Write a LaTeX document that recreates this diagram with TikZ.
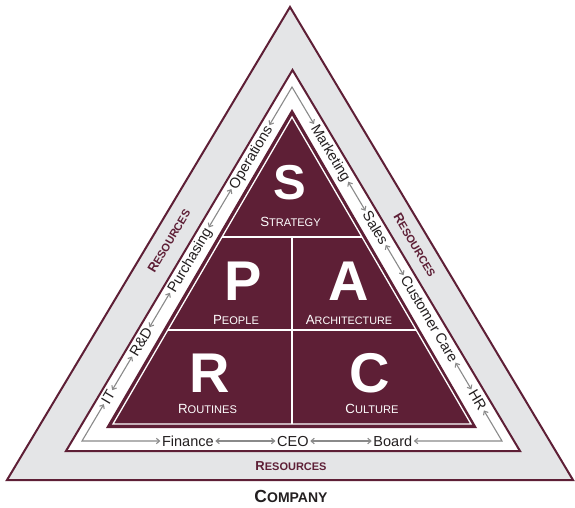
\documentclass[tikz,border=0pt]{standalone}
\usepackage{fontspec}
\setmainfont{Liberation Sans}
\usetikzlibrary{arrows.meta}

\definecolor{spmaroon}{HTML}{5E1F36}
\definecolor{spgray}{HTML}{E4E5E7}
\definecolor{sparrow}{HTML}{8A8A8A}
\definecolor{sptext}{HTML}{231F20}

% first letter large, the rest in smaller capitals
\newcommand{\spcaps}[4]{{\fontsize{#3}{#3}\selectfont #1}{\fontsize{#4}{#4}\selectfont #2}}

\begin{document}
\begin{tikzpicture}[x=1pt,y=-1pt,
  band/.style={draw=spmaroon, line width=2pt, line join=miter},
  divider/.style={draw=white, line width=1.3pt},
  letter/.style={text=white, inner sep=0pt, font={\bfseries\fontsize{56}{56}\selectfont}},
  area/.style={text=white, inner sep=0pt},
  role/.style={text=sptext, inner sep=1.5pt, text height=10pt, text depth=0pt,
               font={\fontsize{14.5}{14.5}\selectfont}},
  resource/.style={text=spmaroon, inner sep=0pt, font=\bfseries},
  link/.style={draw=sparrow, line width=1.1pt,
               {Straight Barb[length=3.2pt,width=5.5pt]}-{Straight Barb[length=3.2pt,width=5.5pt]}}]
\useasboundingbox (0,0) rectangle (575,507);

% company and resources layers
\draw[band, fill=spgray] (7,480) -- (290,7) -- (573,480) -- cycle;
\draw[band, fill=white] (66,451) -- (292.5,70) -- (520,451) -- cycle;

% SPARC core
\fill[spmaroon] (106,428) -- (292,109) -- (477,428) -- cycle;
\draw[divider] (113,424) -- (292,117) -- (471,424) -- cycle;
\draw[divider] (222,237) -- (362,237);
\draw[divider] (168,330) -- (416,330);
\draw[divider] (292,237) -- (292,424);

\node[letter, font={\bfseries\fontsize{49}{49}\selectfont}] (S) at (290,183) {S};
\node[area] (strategy) at (290.5,221.5) {\spcaps{S}{TRATEGY}{13.3}{11.1}};
\node[letter] (P) at (243,281) {P};
\node[area] (people) at (236,320) {\spcaps{P}{EOPLE}{13.3}{11.1}};
\node[letter] (A) at (349,281) {A};
\node[area] (architecture) at (349,320) {\spcaps{A}{RCHITECTURE}{13.3}{10.8}};
\node[letter] (R) at (210,373) {R};
\node[area] (routines) at (207.5,409) {\spcaps{R}{OUTINES}{13.3}{11.1}};
\node[letter] (C) at (370,373) {C};
\node[area] (culture) at (372,409) {\spcaps{C}{ULTURE}{13.3}{11.1}};

% corners of the functions loop
\coordinate (cL) at (82,441);
\coordinate (cT) at (292,87);
\coordinate (cR) at (502,441);

% functions
\path (cL) -- (cT)
  node[role, sloped, pos=0.124] (IT) {IT}
  node[role, sloped, pos=0.28] (RD) {R\&D}
  node[role, sloped, pos=0.511] (Pur) {Purchasing}
  node[role, sloped, pos=0.802] (Ops) {Operations};
\path (cT) -- (cR)
  node[role, sloped, pos=0.186] (Mkt) {Marketing}
  node[role, sloped, pos=0.398] (Sal) {Sales}
  node[role, sloped, pos=0.655] (CC) {Customer Care}
  node[role, sloped, pos=0.884] (HR) {HR};
\path (cL) -- (cR)
  node[role, pos=0.252] (Fin) {Finance}
  node[role, pos=0.502] (CEO) {CEO}
  node[role, pos=0.74] (Brd) {Board};

\draw[link] (IT) -- (cL) -- (Fin);
\draw[link] (IT) -- (RD);
\draw[link] (RD) -- (Pur);
\draw[link] (Pur) -- (Ops);
\draw[link] (Ops) -- (cT) -- (Mkt);
\draw[link] (Mkt) -- (Sal);
\draw[link] (Sal) -- (CC);
\draw[link] (CC) -- (HR);
\draw[link] (HR) -- (cR) -- (Brd);
\draw[link] (Fin) -- (CEO);
\draw[link] (CEO) -- (Brd);

% resources labels
\node[resource, rotate=59.3] (resL) at (169,241) {\spcaps{R}{ESOURCES}{13}{11}};
\node[resource, rotate=-59.3] (resR) at (415,245) {\spcaps{R}{ESOURCES}{13}{11}};
\node[resource] (resB) at (291,466) {\spcaps{R}{ESOURCES}{13}{11}};

% company label
\node[text=sptext, inner sep=0pt, font=\bfseries] (company) at (291,496.5) {\spcaps{C}{OMPANY}{17.5}{14}};
\end{tikzpicture}
\end{document}
